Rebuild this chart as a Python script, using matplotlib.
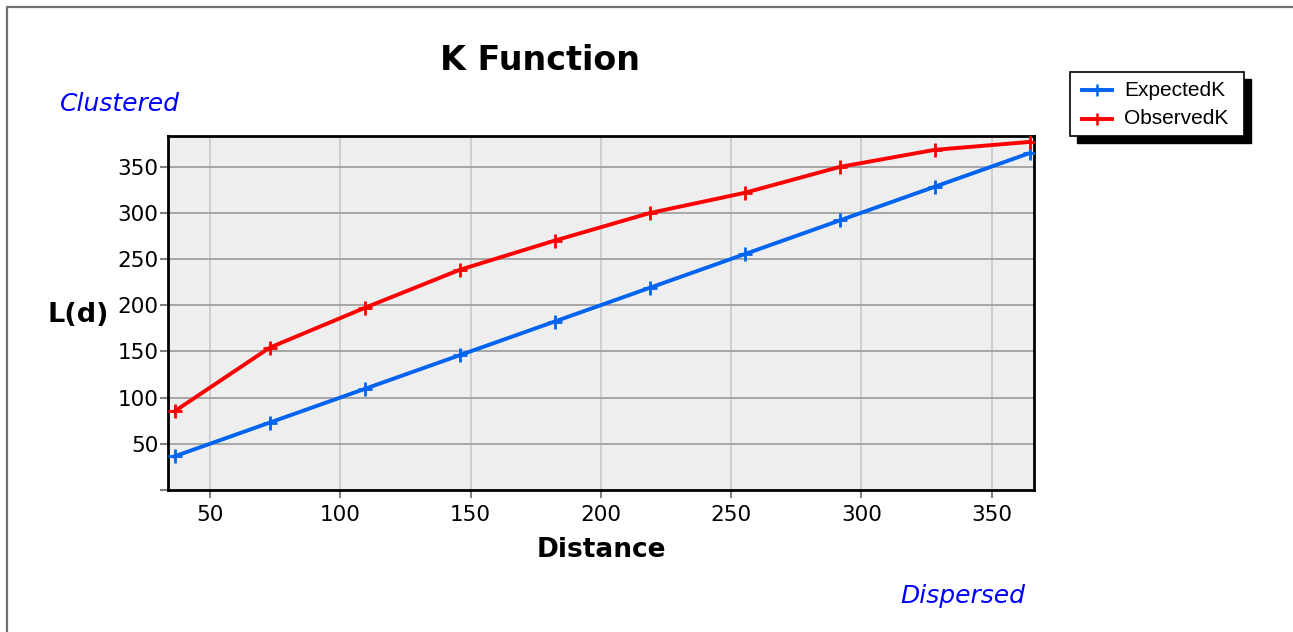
import matplotlib
matplotlib.use("Agg")
import matplotlib.pyplot as plt
from matplotlib.lines import Line2D
from matplotlib.patches import Rectangle

# data
distance = [36.45, 72.9, 109.35, 145.8, 182.25, 218.7, 255.15, 291.6, 328.05, 364.5]
expected_k = [36.45, 72.9, 109.35, 145.8, 182.25, 218.7, 255.15, 291.6, 328.05, 364.5]
observed_k = [85.2, 154.0, 197.0, 238.2, 269.8, 299.6, 321.5, 349.5, 368.0, 376.6]
x_ticks = [50, 100, 150, 200, 250, 300, 350]
y_ticks = [0, 50, 100, 150, 200, 250, 300, 350]
y_labels = ["", "50", "100", "150", "200", "250", "300", "350"]

W, H = 1293, 632
plt.rcParams["font.family"] = "DejaVu Sans"
fig = plt.figure(figsize=(W / 100, H / 100), dpi=100)
fig.patch.set_facecolor("white")

# plot area
ax = fig.add_axes([168 / W, 1 - 490 / H, (1034 - 168) / W, (490 - 136) / H])
ax.set_facecolor("#eeeeee")
ax.set_xlim(33.9, 366.2)
ax.set_ylim(0, 383)

for x in x_ticks:
    ax.axvline(x, color="#c8c8c8", lw=1.2, zorder=1)
for y in y_ticks[1:]:
    ax.axhline(y, color="#9a9a9a", lw=1.2, zorder=1)

ax.plot(distance, expected_k, color="#0064f0", lw=2.8, marker="+", ms=10, mew=2,
        label="ExpectedK", zorder=3)
ax.plot(distance, observed_k, color="#ff0000", lw=2.8, marker="+", ms=10, mew=2,
        label="ObservedK", zorder=3)

ax.set_xticks(x_ticks)
ax.set_yticks(y_ticks)
ax.set_yticklabels(y_labels)
ax.tick_params(axis="both", colors="#808080", labelcolor="black", labelsize=15.5,
               length=6, width=1.5, direction="out")
ax.tick_params(axis="x", pad=5)
ax.tick_params(axis="y", pad=1)
for s in ax.spines.values():
    s.set_color("black")
    s.set_linewidth(2)

# texts
fig.text(540 / W, 1 - 60 / H, "K Function", ha="center", va="center",
         fontsize=24, fontweight="bold")
fig.text(601 / W, 1 - 550 / H, "Distance", ha="center", va="center",
         fontsize=19, fontweight="bold")
fig.text(78 / W, 1 - 315 / H, "L(d)", ha="center", va="center",
         fontsize=19.5, fontweight="bold")
fig.text(60 / W, 1 - 104 / H, "Clustered", ha="left", va="center",
         fontsize=18, style="italic", color="#0000ff")
fig.text(1025 / W, 1 - 596 / H, "Dispersed", ha="right", va="center",
         fontsize=18, style="italic", color="#0000ff")

# legend with drop shadow
lx0, ly0, lx1, ly1 = 1070, 72, 1244, 136
fig.patches.append(Rectangle(((lx0 + 7) / W, 1 - (ly1 + 7) / H), (lx1 - lx0) / W,
                             (ly1 - ly0) / H, transform=fig.transFigure,
                             facecolor="black", edgecolor="black", zorder=5))
fig.patches.append(Rectangle((lx0 / W, 1 - ly1 / H), (lx1 - lx0) / W, (ly1 - ly0) / H,
                             transform=fig.transFigure, facecolor="white",
                             edgecolor="black", lw=1.2, zorder=6))
handles, labels = ax.get_legend_handles_labels()
rows = [90, 119]
for h, lab, ry in zip(handles, labels, rows):
    fig.lines.append(Line2D([1082 / W, 1112 / W], [1 - ry / H, 1 - ry / H],
                            transform=fig.transFigure, color=h.get_color(), lw=2.8,
                            zorder=7))
    fig.lines.append(Line2D([1097 / W], [1 - ry / H], transform=fig.transFigure,
                            color=h.get_color(), marker="+", ms=9, mew=1.8, zorder=7))
    fig.text(1124 / W, 1 - ry / H, lab, ha="left", va="center", fontsize=15,
             family="Liberation Sans", zorder=8)

# outer frame (top and left edges)
fig.lines.append(Line2D([7 / W, 7 / W, 1.0], [0, 1 - 7 / H, 1 - 7 / H],
                        transform=fig.transFigure, color="#707070", lw=1.6))

fig.savefig("out.png", dpi=100)
